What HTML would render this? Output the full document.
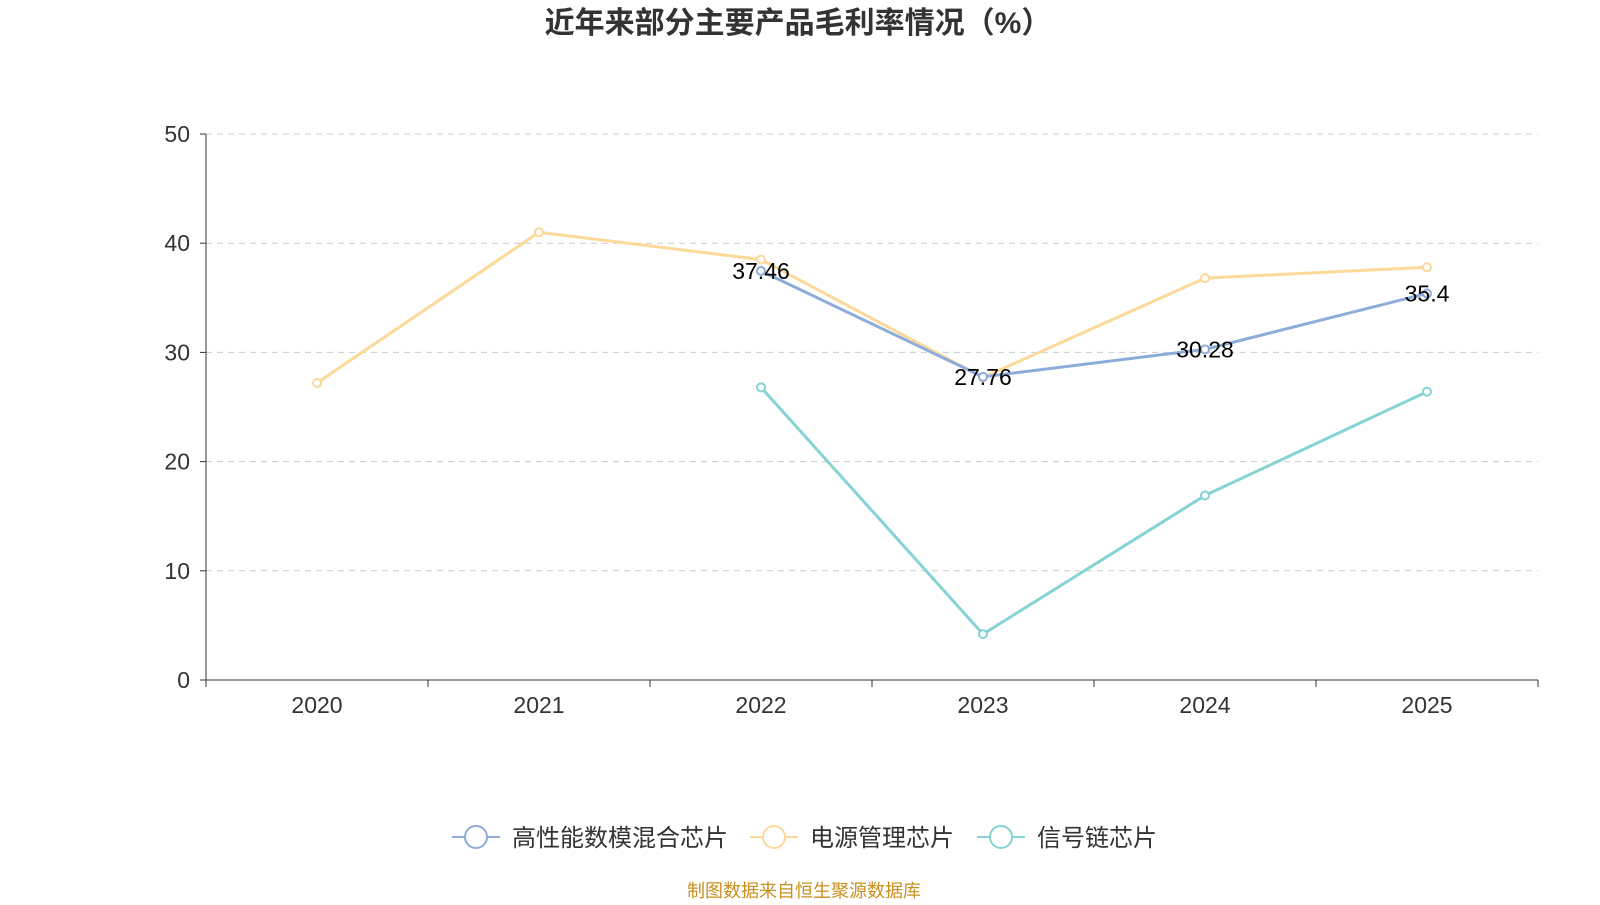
<!DOCTYPE html>
<html><head><meta charset="utf-8"><style>
body{margin:0;background:#fff;font-family:"Liberation Sans","Noto Sans CJK SC",sans-serif;}
</style></head><body>
<svg width="1600" height="900" xmlns="http://www.w3.org/2000/svg" id="chart">
<text x="798" y="33" text-anchor="middle" font-size="30" font-weight="bold" fill="#333" font-family="Liberation Sans,Noto Sans CJK SC,sans-serif">近年来部分主要产品毛利率情况（%）</text>
<g id="grid"></g><g id="axes"></g><g id="series"></g><g id="labels"></g>
<g font-size="24" fill="#333" font-family="Liberation Sans,Noto Sans CJK SC,sans-serif">
<g><line x1="452" y1="837" x2="500" y2="837" stroke="#8eacd9" stroke-width="2"/><circle cx="476" cy="837" r="11" fill="#fff" stroke="#8eacd9" stroke-width="2"/><text x="512" y="846">高性能数模混合芯片</text></g>
<g><line x1="750" y1="837" x2="798" y2="837" stroke="#fdd999" stroke-width="2"/><circle cx="774" cy="837" r="11" fill="#fff" stroke="#fdd999" stroke-width="2"/><text x="810" y="846">电源管理芯片</text></g>
<g><line x1="977" y1="837" x2="1025" y2="837" stroke="#86d3d6" stroke-width="2"/><circle cx="1001" cy="837" r="11" fill="#fff" stroke="#86d3d6" stroke-width="2"/><text x="1037" y="846">信号链芯片</text></g>
</g>
<text x="804" y="897" text-anchor="middle" font-size="18" fill="#c8901e" font-family="Liberation Sans,Noto Sans CJK SC,sans-serif">制图数据来自恒生聚源数据库</text>
</svg>
<script>
const categories=['2020','2021','2022','2023','2024','2025'];
const yTicks=[0,10,20,30,40,50];
const mixedVals=[null,null,37.46,27.76,30.28,35.4];
const powerVals=[27.2,41.0,38.5,27.7,36.8,37.8];
const signalVals=[null,null,26.8,4.2,16.9,26.4];
const NS='http://www.w3.org/2000/svg';
const L=206,R=1538,T=134,B=680;
const step=(R-L)/categories.length;
const x=i=>L+step*(i+0.5);
const y=v=>B-(v/50)*(B-T);
function mk(tag,attrs,parent){const e=document.createElementNS(NS,tag);for(const k in attrs)e.setAttribute(k,attrs[k]);document.getElementById(parent).appendChild(e);return e;}
yTicks.forEach(t=>{
 if(t>0){const g=mk('line',{x1:L,x2:R,y1:y(t),y2:y(t),stroke:'#ccc','stroke-dasharray':'6,5'},'grid');
 
 }
 const tk=mk('line',{x1:L-6,x2:L,y1:y(t),y2:y(t),stroke:'#333'},'axes');
 
 
 const tx=mk('text',{x:L-16,y:y(t)+8,'text-anchor':'end','font-size':23,fill:'#333'},'axes');tx.textContent=t;
 
 
});
const ya=mk('line',{x1:L,x2:L,y1:T,y2:B,stroke:'#333'},'axes');


const xa=mk('line',{x1:L,x2:R,y1:B,y2:B,stroke:'#333'},'axes');


for(let i=0;i<=categories.length;i++){const t=mk('line',{x1:L+step*i,x2:L+step*i,y1:B,y2:B+7,stroke:'#333'},'axes');
 
 }
categories.forEach((c,i)=>{const t=mk('text',{x:x(i),y:B+33,'text-anchor':'middle','font-size':23,fill:'#333'},'axes');t.textContent=c;
 
 });
function series(vals,color,name,labels){
 const pts=vals.map((v,i)=>v==null?null:[x(i),y(v)]).filter(p=>p);
 const pl=mk('polyline',{points:pts.map(p=>p.join(',')).join(' '),fill:'none',stroke:color,'stroke-width':3},'series');
 
 
 vals.forEach((v,i)=>{if(v==null)return;
  const c=mk('circle',{cx:x(i),cy:y(v),r:4,fill:'#fff',stroke:color,'stroke-width':2},'series');
  
  
  if(labels){const t=mk('text',{x:x(i),y:y(v)+8,'text-anchor':'middle','font-size':23,fill:'#000'},'labels');t.textContent=v;
   
   }
 });
}
series(powerVals,'#fdd999','power');
series(mixedVals,'#8eacd9','mixed',true);
series(signalVals,'#86d3d6','signal');
</script>
</body></html>
